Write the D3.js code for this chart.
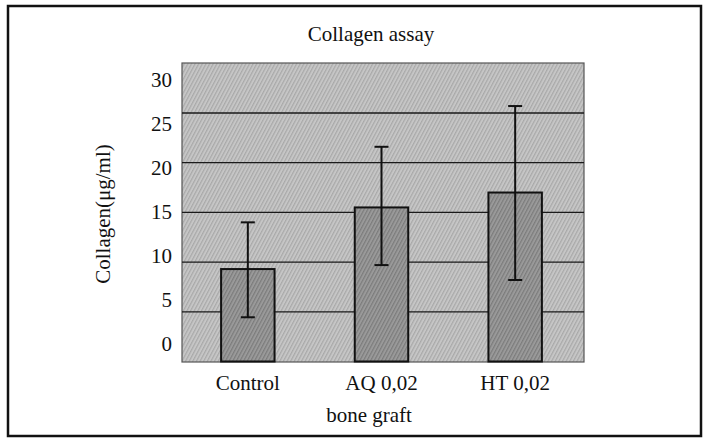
<!DOCTYPE html>
<html>
<head>
    <meta charset="utf-8">
    <title>Collagen assay</title>
    <script src="https://cdn.jsdelivr.net/npm/d3@7"></script>
    <style>
    body { margin: 0; background: #fff; }
    svg text { font-family: "Liberation Serif", Tinos, "Times New Roman", "DejaVu Serif"; fill: #111; font-size: 21px; }
    .grid line { stroke: #1a1a1a; stroke-width: 1.3px; }
    .bar { stroke: #111; stroke-width: 2px; }
    .err { stroke: #111; stroke-width: 2px; fill: none; }
    </style>
</head>
<body>
<script>
  // values
  var groups = ['Control', 'AQ 0,02', 'HT 0,02'];
  var means  = [9.3, 15.5, 17.0];
  var lows   = [4.45, 9.7, 8.2];
  var highs  = [14.0, 21.6, 25.7];
  var yTicks = [0, 5, 10, 15, 20, 25, 30];
  var gridTicks = [5, 10, 15, 20, 25];

  var width = 708, height = 439;
  var plot = {left: 182, right: 584, top: 63, bottom: 362};
  var serif = '"Liberation Serif", Tinos, "Times New Roman", "DejaVu Serif"';

  var svg = d3.select('body').append('svg')
      .attr('width', width)
      .attr('height', height);

  // hatch patterns
  var defs = svg.append('defs');
  function hatch(id, base, line) {
      var p = defs.append('pattern')
          .attr('id', id)
          .attr('patternUnits', 'userSpaceOnUse')
          .attr('width', 3.2).attr('height', 3.2)
          .attr('patternTransform', 'rotate(28)');
      p.append('rect').attr('width', 3.2).attr('height', 3.2).attr('fill', base);
      p.append('rect').attr('width', 1.2).attr('height', 3.2).attr('fill', line);
  }
  hatch('bg', '#c6c6c6', '#a9a9a9');
  hatch('barfill', '#9a9a9a', '#7c7c7c');

  // outer frame
  svg.append('rect')
      .attr('x', 8).attr('y', 6)
      .attr('width', 693).attr('height', 430)
      .attr('fill', 'none')
      .attr('stroke', '#111')
      .attr('stroke-width', 2.5);

  var x = d3.scaleBand()
      .domain(groups)
      .range([181, 582])
      .paddingInner(0.6)
      .paddingOuter(0.3);

  var y = d3.scaleLinear()
      .domain([0, 30])
      .range([361.5, 63.3]);

  // tick labels in the scan sit on a slightly compressed spacing
  var yLabel = d3.scaleLinear()
      .domain([0, 30])
      .range([344, 80]);

  svg.append('rect')
      .attr('x', plot.left).attr('y', plot.top)
      .attr('width', plot.right - plot.left)
      .attr('height', plot.bottom - plot.top)
      .attr('fill', 'url(#bg)')
      .attr('stroke', '#555')
      .attr('stroke-width', 1.2);

  svg.append('g')
      .attr('class', 'grid')
      .selectAll('line')
      .data(gridTicks)
      .enter().append('line')
      .attr('x1', plot.left).attr('x2', plot.right)
      .attr('y1', function(d) { return y(d); })
      .attr('y2', function(d) { return y(d); });

  // bars
  svg.selectAll('.bar')
      .data(groups)
      .enter().append('rect')
      .attr('class', 'bar')
      .attr('x', function(d) { return x(d); })
      .attr('width', x.bandwidth())
      .attr('y', function(d, i) { return y(means[i]); })
      .attr('height', function(d, i) { return y(0) - y(means[i]); })
      .attr('fill', 'url(#barfill)');

  // error bars
  var eb = svg.selectAll('.eb')
      .data(groups)
      .enter().append('g')
      .attr('class', 'err');
  eb.append('line')
      .attr('class', 'err')
      .attr('x1', function(d) { return x(d) + x.bandwidth() / 2; })
      .attr('x2', function(d) { return x(d) + x.bandwidth() / 2; })
      .attr('y1', function(d, i) { return y(lows[i]); })
      .attr('y2', function(d, i) { return y(highs[i]); });
  [lows, highs].forEach(function(arr) {
      eb.append('line')
          .attr('class', 'err')
          .attr('x1', function(d) { return x(d) + x.bandwidth() / 2 - 7; })
          .attr('x2', function(d) { return x(d) + x.bandwidth() / 2 + 7; })
          .attr('y1', function(d, i) { return y(arr[i]); })
          .attr('y2', function(d, i) { return y(arr[i]); });
  });

  // y axis labels
  var yAxis = svg.append('g')
      .attr('transform', 'translate(172,0)')
      .call(d3.axisLeft(yLabel).tickValues(yTicks).tickSize(0).tickPadding(0))
      .attr('font-family', serif)
      .attr('font-size', 21);
  yAxis.select('.domain').remove();

  // x axis labels
  var xAxis = svg.append('g')
      .attr('transform', 'translate(0,375)')
      .call(d3.axisBottom(x).tickSize(0).tickPadding(0))
      .attr('font-family', serif)
      .attr('font-size', 21);
  xAxis.select('.domain').remove();
  xAxis.selectAll('text')
      .attr('dy', null)
      .attr('y', 15);

  svg.append('text')
      .attr('x', 371).attr('y', 41)
      .attr('text-anchor', 'middle')
      .text('Collagen assay');

  svg.append('text')
      .attr('x', 369).attr('y', 422)
      .attr('text-anchor', 'middle')
      .text('bone graft');

  svg.append('text')
      .attr('transform', 'translate(110,214) rotate(-90)')
      .attr('text-anchor', 'middle')
      .text('Collagen(μg/ml)');
</script>
</body>
</html>
